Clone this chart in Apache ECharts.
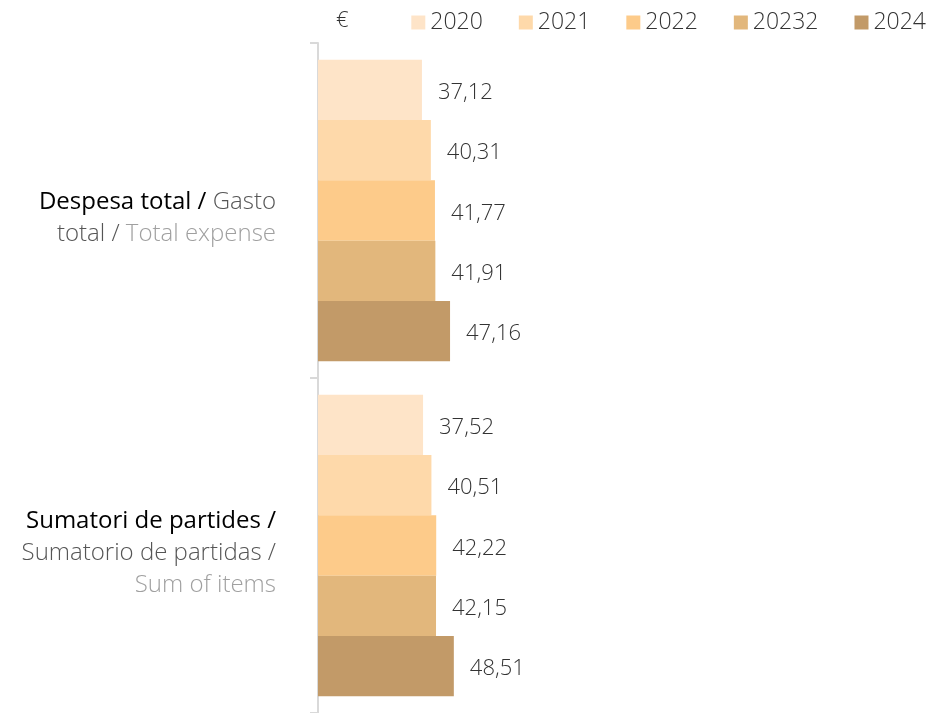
<!DOCTYPE html>
<html>
<head>
<meta charset="utf-8">
<script src="https://cdn.jsdelivr.net/npm/echarts@6/dist/echarts.min.js"></script>
<style>
  html, body { margin: 0; padding: 0; background: #fff; }
  #main { width: 935px; height: 713px; }
</style>
</head>
<body>
<div id="main"></div>
<script>
// categories (rich text keys: a = Catalan, b = Spanish, c = English)
const categories = [
	'{a|Despesa total /} {b|Gasto}\n{b|total /} {c|Total expense}',
	'{a|Sumatori de partides /}\n{b|Sumatorio de partidas /}\n{c|Sum of items}'
]
const seriesNames = ['2020', '2021', '2022', '20232', '2024']
const colors = ['#FEE4C8', '#FED9AA', '#FDCB8A', '#E2B77C', '#C29A68']
const values2020 = [37.12, 37.52]
const values2021 = [40.31, 40.51]
const values2022 = [41.77, 42.22]
const values2023 = [41.91, 42.15]
const values2024 = [47.16, 48.51]
const seriesValues = [values2020, values2021, values2022, values2023, values2024]

const font = "'Open Sans', 'Noto Sans', sans-serif"
const chart = echarts.init(document.getElementById('main'))

const option = {
	color: colors,
	animation: false,
	title: {
		text: '€',
		left: 331,
		top: 5,
		textStyle: { fontFamily: font, fontSize: 22, fontWeight: 300, color: '#333' }
	},
	legend: {
		data: seriesNames,
		right: 4,
		top: 6,
		icon: 'rect',
		itemWidth: 14,
		itemHeight: 14,
		itemGap: 36,
		textStyle: { fontFamily: font, fontSize: 23, fontWeight: 300, color: '#333' }
	},
	grid: {
		left: 318,
		right: 57,
		top: 43,
		bottom: 0
	},
	xAxis: {
		type: 'value',
		min: 0,
		max: 200,
		show: false
	},
	yAxis: {
		type: 'category',
		inverse: true,
		data: categories,
		axisLine: { lineStyle: { color: '#d9d9d9', width: 2 } },
		axisTick: { show: true, length: 8, lineStyle: { color: '#d9d9d9', width: 2 } },
		axisLabel: {
			margin: 42,
			fontFamily: font,
			fontSize: 24,
			lineHeight: 32,
			padding: [16, 0, 0, 0],
			rich: {
				a: { fontFamily: font, fontSize: 24, fontWeight: 'normal', color: '#000' },
				b: { fontFamily: font, fontSize: 24, fontWeight: 300, color: '#555' },
				c: { fontFamily: font, fontSize: 24, fontWeight: 300, color: '#a0a0a0' }
			}
		}
	},
	series: seriesNames.map((name, i) => ({
		name: name,
		type: 'bar',
		barGap: '0%',
		barCategoryGap: '10%',
		data: seriesValues[i],
		label: {
			show: true,
			position: 'right',
			distance: 16,
			offset: [0, 3],
			fontFamily: font,
			fontSize: 22,
			fontWeight: 300,
			color: '#333',
			formatter: (p) => p.value.toFixed(2).replace('.', ',')
		}
	}))
}

chart.setOption(option)
window.addEventListener('resize', () => {
	chart.resize()
})
</script>
</body>
</html>
